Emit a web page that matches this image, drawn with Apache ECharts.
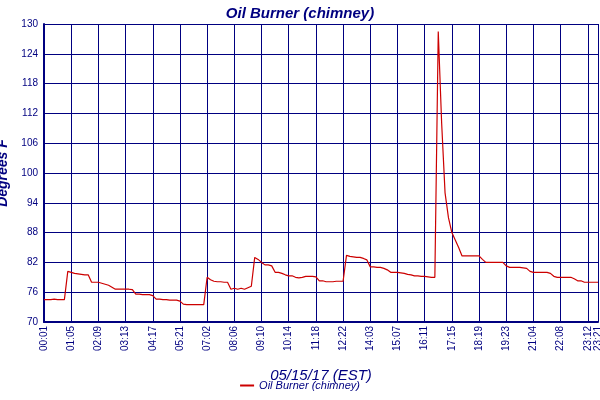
<!DOCTYPE html>
<html><head><meta charset="utf-8">
<script src="https://cdn.jsdelivr.net/npm/echarts@6/dist/echarts.min.js"></script>
<style>html,body{margin:0;padding:0;background:#fff}#c{width:600px;height:400px}</style>
</head><body><div id="c"></div>
<script>
var tickLabels = ["00:01","01:05","02:09","03:13","04:17","05:21","07:02","08:06","09:10","10:14","11:18","12:22","14:03","15:07","16:11","17:15","18:19","19:23","21:04","22:08","23:12","23:21"];
var tickIndex = [0,8,16,24,32,40,48,56,64,72,80,88,96,104,112,120,128,136,144,152,160,163];
var temps = [
74.5,74.5,74.5,74.6,74.5,74.5,74.5,80.2,80.0,79.8,79.7,79.6,79.5,79.5,78.0,78.0,78.0,77.8,77.6,77.4,
77.0,76.6,76.6,76.6,76.6,76.6,76.5,75.6,75.6,75.5,75.5,75.5,75.3,74.6,74.6,74.5,74.5,74.4,74.4,74.4,
74.2,73.6,73.5,73.5,73.5,73.5,73.5,73.5,79.0,78.5,78.2,78.1,78.1,78.0,78.0,76.6,76.8,76.6,76.8,76.6,
76.9,77.2,83.0,82.6,82.0,81.5,81.5,81.3,80.0,80.0,79.8,79.5,79.3,79.3,79.0,78.9,79.0,79.2,79.2,79.2,
79.1,78.3,78.3,78.1,78.1,78.1,78.2,78.2,78.2,83.4,83.2,83.1,83.0,83.0,82.8,82.5,81.1,81.1,81.0,81.0,
80.8,80.5,80.0,80.0,80.0,79.9,79.8,79.6,79.5,79.3,79.3,79.2,79.2,79.1,79.0,79.0,128.5,110,96,91,
88,86.5,85,83.3,83.3,83.3,83.3,83.3,83.3,82.6,82.0,82.0,82.0,82.0,82.0,82.0,81.3,81.0,81.0,81.0,
81.0,80.9,80.8,80.2,80.0,80.0,80.0,80.0,80.0,79.8,79.2,79.0,79.0,79.0,79.0,79.0,78.7,78.3,78.3,78.0,
78.0,78.0,78.0,78.0];
var cats = temps.map(function(v,i){var k=tickIndex.indexOf(i);return k>=0?tickLabels[k]:'';});
var navy='#000080', font='Liberation Sans';
var chart = echarts.init(document.getElementById('c'));
chart.setOption({
  animation:false, backgroundColor:'#fff',
  title:{text:'Oil Burner (chimney)',left:'center',top:1,textStyle:{color:navy,fontStyle:'italic',fontWeight:'bold',fontSize:15,fontFamily:font}},
  legend:{bottom:4,left:'center',itemWidth:14,itemHeight:2,icon:'rect',textStyle:{color:navy,fontStyle:'italic',fontSize:11,fontFamily:font}},
  grid:{left:44,right:2,top:24,bottom:78,outerBoundsMode:'none',containLabel:false},
  xAxis:{type:'category',data:cats,boundaryGap:false,
    name:'05/15/17 (EST)',nameLocation:'middle',nameGap:46,nameTextStyle:{color:navy,fontStyle:'italic',fontSize:15,fontFamily:font},
    axisLine:{lineStyle:{color:navy,width:2}},axisTick:{show:false},
    axisLabel:{interval:function(i,v){return v!=='';},rotate:90,color:navy,fontSize:10,fontFamily:font,margin:4},
    splitLine:{show:true,interval:function(i,v){return v!=='';},lineStyle:{color:navy,width:1}}},
  yAxis:{type:'value',min:70,max:130,interval:6,
    name:'Degrees F',nameLocation:'middle',nameGap:30,nameTextStyle:{color:navy,fontStyle:'italic',fontWeight:'bold',fontSize:14,fontFamily:font},
    axisLine:{show:true,lineStyle:{color:navy,width:2}},axisTick:{show:false},
    axisLabel:{color:navy,fontSize:10,fontFamily:font,margin:6},
    splitLine:{lineStyle:{color:navy,width:1}}},
  series:[{name:'Oil Burner (chimney)',type:'line',data:temps,showSymbol:false,
    lineStyle:{color:'#cc0000',width:1.2},itemStyle:{color:'#cc0000'}}]
});
</script></body></html>
